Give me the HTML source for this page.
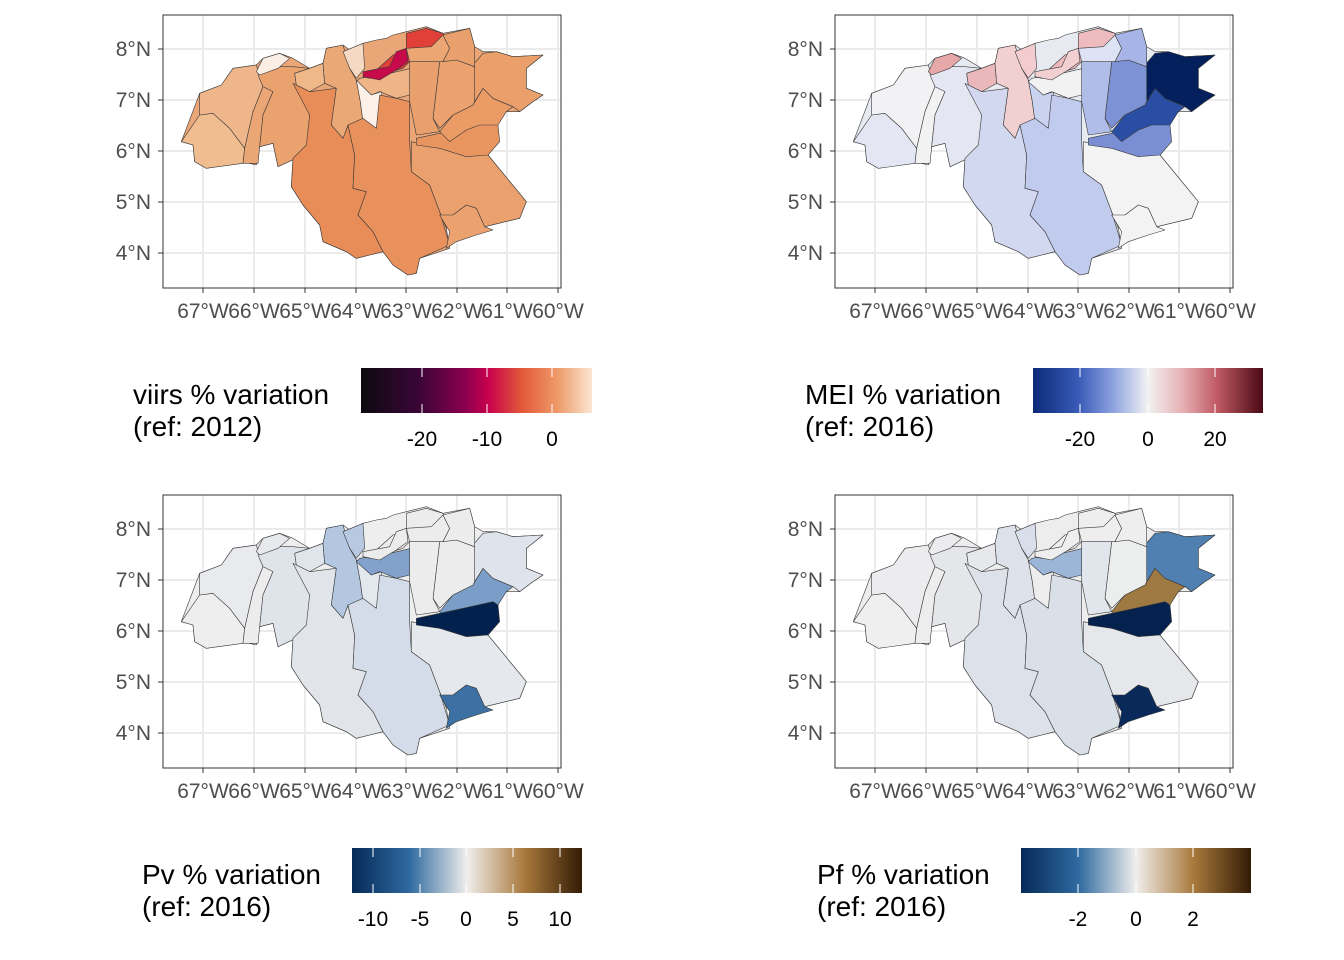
<!DOCTYPE html>
<html><head><meta charset="utf-8"><style>
html,body{margin:0;padding:0;background:#fff;}
svg{display:block;font-family:"Liberation Sans",sans-serif;}
.ax{font-size:21px;fill:#4d4d4d;}
.lt{font-size:28px;fill:#000;}
.lk{font-size:21px;fill:#000;}
.g{stroke:#ebebeb;stroke-width:2;}
.m use{stroke:#3a3a3a;stroke-width:1.8;stroke-linejoin:round;}
</style></head><body>
<svg width="1344" height="960" viewBox="0 0 1344 960" xmlns="http://www.w3.org/2000/svg">
<defs>
<path id="O" d="M55,380 L110,235 L175,210 L210,160 L280,150 L300,130 L350,115 L390,130 L440,160 L480,145 L490,100 L540,90 L560,105 L600,85 L640,75 L670,70 L690,60 L730,50 L790,35 L840,55 L920,40 L935,95 L960,110 L1000,110 L1050,125 L1140,120 L1090,160 L1090,220 L1140,240 L1110,260 L1070,290 L1030,290 L990,310 L1005,355 L975,420 L1090,560 L1070,610 L965,635 L940,580 L910,570 L870,600 L850,640 L860,700 L770,730 L760,775 L735,780 L690,750 L660,710 L620,720 L580,730 L550,710 L480,680 L470,630 L420,570 L385,515 L390,430 L345,455 L330,385 L290,395 L280,450 L240,440 L130,460 L95,440 L90,390 Z"/>
<path id="R1" d="M55,380 L110,300 L150,295 L200,340 L245,400 L240,445 L130,460 L95,440 L90,390 Z"/>
<path id="R2" d="M110,235 L175,210 L210,160 L280,150 L290,185 L300,215 L270,290 L245,400 L200,340 L150,295 L110,300 Z"/>
<path id="R3" d="M290,185 L300,215 L270,290 L245,400 L240,445 L285,445 L290,395 L300,300 L330,230 L310,200 Z"/>
<path id="R4" d="M285,180 L330,155 L390,155 L440,160 L395,175 L400,210 L440,230 L440,330 L440,390 L400,430 L345,455 L330,385 L290,395 L300,300 L330,230 L300,215 Z"/>
<path id="R5" d="M280,170 L300,130 L350,115 L380,130 L345,160 L290,180 Z"/>
<path id="R6" d="M395,175 L440,160 L480,145 L485,205 L440,230 L400,210 Z"/>
<path id="R7" d="M390,205 L440,230 L520,220 L505,330 L540,370 L555,330 L575,420 L570,520 L610,530 L585,600 L630,650 L660,710 L620,720 L580,730 L550,710 L480,680 L470,630 L420,570 L385,515 L390,430 L430,390 L440,300 Z"/>
<path id="R8" d="M480,145 L490,100 L540,90 L560,160 L580,195 L592,260 L600,320 L555,330 L540,370 L505,330 L520,220 L485,205 Z"/>
<path id="R9" d="M540,110 L600,85 L605,160 L580,190 L560,160 Z"/>
<path id="R10" d="M580,195 L625,240 L655,230 L665,320 L635,340 L600,320 L592,260 Z"/>
<path id="R11" d="M590,190 L680,175 L745,160 L760,210 L740,240 L700,250 L650,230 L625,240 L580,200 Z"/>
<path id="R12" d="M600,185 L640,165 L690,120 L730,105 L730,55 L790,40 L840,55 L860,100 L840,140 L830,165 L740,140 L720,160 L620,190 Z"/>
<path id="R13" d="M600,170 L680,155 L700,110 L730,100 L735,140 L700,165 L650,195 L600,185 Z"/>
<path id="R14" d="M555,330 L600,310 L640,340 L650,240 L700,250 L740,260 L740,380 L745,470 L800,510 L830,590 L860,690 L770,730 L760,775 L735,780 L690,750 L660,710 L630,650 L585,600 L610,530 L570,520 L575,420 Z"/>
<path id="R15" d="M745,380 L830,400 L880,400 L975,420 L1090,560 L1070,610 L965,635 L940,580 L910,570 L870,600 L850,640 L830,590 L800,510 L745,470 Z"/>
<path id="R16" d="M760,370 L830,355 L900,340 L990,320 L1005,330 L1010,380 L975,420 L910,425 L830,400 L760,390 Z"/>
<path id="R17" d="M830,350 L870,300 L930,270 L960,220 L990,250 L1050,275 L1030,290 L1005,330 L950,330 L910,345 L860,380 Z"/>
<path id="R18" d="M930,150 L960,115 L1000,110 L1050,125 L1140,120 L1090,160 L1090,220 L1140,240 L1110,260 L1070,290 L1050,275 L990,250 L960,220 L935,260 L930,200 Z"/>
<path id="R19" d="M830,140 L880,135 L935,155 L935,260 L930,270 L870,300 L830,340 L810,310 Z"/>
<path id="R20" d="M740,140 L830,140 L810,310 L830,350 L760,360 L740,260 Z"/>
<path id="R21" d="M730,100 L805,95 L840,60 L860,100 L840,140 L740,140 Z"/>
<path id="R23" d="M840,60 L920,40 L935,95 L935,155 L880,135 L840,140 L860,100 Z"/>
<path id="R22" d="M830,600 L870,600 L910,570 L940,580 L965,635 L990,645 L940,660 L880,680 L850,700 L860,650 Z"/>
<g id="grid">
<rect x="0" y="0" width="398" height="273" fill="#fff"/>
<line class="g" x1="40" y1="0" x2="40" y2="273"/><line class="g" x1="91" y1="0" x2="91" y2="273"/><line class="g" x1="142" y1="0" x2="142" y2="273"/><line class="g" x1="193" y1="0" x2="193" y2="273"/><line class="g" x1="243" y1="0" x2="243" y2="273"/><line class="g" x1="294" y1="0" x2="294" y2="273"/><line class="g" x1="344" y1="0" x2="344" y2="273"/><line class="g" x1="395" y1="0" x2="395" y2="273"/>
<line class="g" x1="0" y1="34" x2="398" y2="34"/><line class="g" x1="0" y1="85" x2="398" y2="85"/><line class="g" x1="0" y1="136" x2="398" y2="136"/><line class="g" x1="0" y1="187" x2="398" y2="187"/><line class="g" x1="0" y1="238" x2="398" y2="238"/>
</g>
<g id="axes">
<rect x="0" y="0" width="398" height="273" fill="none" stroke="#333" stroke-width="1"/>
<g stroke="#333" stroke-width="1">
<line x1="-5" y1="34" x2="0" y2="34"/><line x1="-5" y1="85" x2="0" y2="85"/><line x1="-5" y1="136" x2="0" y2="136"/><line x1="-5" y1="187" x2="0" y2="187"/><line x1="-5" y1="238" x2="0" y2="238"/>
<line x1="40" y1="273" x2="40" y2="278"/><line x1="91" y1="273" x2="91" y2="278"/><line x1="142" y1="273" x2="142" y2="278"/><line x1="193" y1="273" x2="193" y2="278"/><line x1="243" y1="273" x2="243" y2="278"/><line x1="294" y1="273" x2="294" y2="278"/><line x1="344" y1="273" x2="344" y2="278"/><line x1="395" y1="273" x2="395" y2="278"/>
</g>
<g class="ax" text-anchor="end">
<text x="-12" y="41">8°N</text><text x="-12" y="92">7°N</text><text x="-12" y="143">6°N</text><text x="-12" y="194">5°N</text><text x="-12" y="245">4°N</text>
</g>
<g class="ax" text-anchor="middle">
<text x="40" y="303">67°W</text><text x="91" y="303">66°W</text><text x="142" y="303">65°W</text><text x="193" y="303">64°W</text><text x="243" y="303">63°W</text><text x="294" y="303">62°W</text><text x="344" y="303">61°W</text><text x="395" y="303">60°W</text>
</g>
</g>
<linearGradient id="gv"><stop offset="0" stop-color="#0d0a0f"/><stop offset="0.25" stop-color="#3a0537"/><stop offset="0.45" stop-color="#8a0050"/><stop offset="0.55" stop-color="#c7004c"/><stop offset="0.7" stop-color="#e35a3a"/><stop offset="0.85" stop-color="#ee9a68"/><stop offset="1" stop-color="#fbe6d3"/></linearGradient>
<linearGradient id="gm"><stop offset="0" stop-color="#0c2a78"/><stop offset="0.2" stop-color="#3a5cb8"/><stop offset="0.35" stop-color="#8ea3e0"/><stop offset="0.5" stop-color="#f2f2f2"/><stop offset="0.65" stop-color="#e6b0b4"/><stop offset="0.8" stop-color="#c05a64"/><stop offset="1" stop-color="#4a0a14"/></linearGradient>
<linearGradient id="gp"><stop offset="0" stop-color="#062a58"/><stop offset="0.25" stop-color="#2f6aa0"/><stop offset="0.5" stop-color="#f0eeec"/><stop offset="0.75" stop-color="#a9793c"/><stop offset="1" stop-color="#331c05"/></linearGradient>
</defs>

<g transform="translate(163,15)"><use href="#grid"/>
<g class="m" transform="scale(0.33333)">
<use href="#O" fill="#eba677"/><use href="#R1" fill="#efbd8f"/><use href="#R2" fill="#eeb68a"/><use href="#R3" fill="#eaa674"/><use href="#R4" fill="#eaa26f"/><use href="#R5" fill="#fbeee4"/><use href="#R6" fill="#efb888"/><use href="#R7" fill="#e88c58"/><use href="#R8" fill="#eba877"/><use href="#R9" fill="#f6d9c2"/><use href="#R11" fill="#efb587"/><use href="#R10" fill="#fcf1e8"/><use href="#R12" fill="#e04038"/><use href="#R13" fill="#c60a4a"/><use href="#R14" fill="#e9915c"/><use href="#R15" fill="#eba16e"/><use href="#R16" fill="#e99560"/><use href="#R17" fill="#ea9b66"/><use href="#R18" fill="#eba06c"/><use href="#R19" fill="#eba26f"/><use href="#R20" fill="#eaa06c"/><use href="#R21" fill="#eca674"/><use href="#R23" fill="#eaa06c"/><use href="#R22" fill="#eba26e"/>
</g><use href="#axes"/></g>

<g transform="translate(835,15)"><use href="#grid"/>
<g class="m" transform="scale(0.33333)">
<use href="#O" fill="#e8eaf2"/><use href="#R1" fill="#e4e7f3"/><use href="#R2" fill="#f2f1f3"/><use href="#R3" fill="#f2f2f2"/><use href="#R4" fill="#e4e6f2"/><use href="#R5" fill="#e6a8a8"/><use href="#R6" fill="#eab8bb"/><use href="#R7" fill="#d3d8f1"/><use href="#R8" fill="#f2d0d2"/><use href="#R9" fill="#f2cccf"/><use href="#R10" fill="#c9d3f0"/><use href="#R11" fill="#f2f2f2"/><use href="#R12" fill="#eebcbf"/><use href="#R13" fill="#f2cfd1"/><use href="#R14" fill="#c1cbed"/><use href="#R15" fill="#f3f3f3"/><use href="#R16" fill="#7a8fd3"/><use href="#R17" fill="#2a4ea4"/><use href="#R18" fill="#04205c"/><use href="#R19" fill="#7d92d4"/><use href="#R20" fill="#b0bde9"/><use href="#R21" fill="#dde2f5"/><use href="#R23" fill="#a7b5e6"/><use href="#R22" fill="#f3f3f3"/>
</g><use href="#axes"/></g>

<g transform="translate(163,495)"><use href="#grid"/>
<g class="m" transform="scale(0.33333)">
<use href="#O" fill="#eeeeee"/><use href="#R1" fill="#eeeeee"/><use href="#R2" fill="#e9eaed"/><use href="#R3" fill="#ececed"/><use href="#R4" fill="#dfe3ea"/><use href="#R5" fill="#e8e9ed"/><use href="#R6" fill="#e0e5ec"/><use href="#R7" fill="#e1e5ea"/><use href="#R8" fill="#b4c7e1"/><use href="#R9" fill="#b7c8e0"/><use href="#R10" fill="#e3e7ee"/><use href="#R11" fill="#82a1cb"/><use href="#R12" fill="#ececec"/><use href="#R13" fill="#ececec"/><use href="#R14" fill="#d3dce8"/><use href="#R15" fill="#e5e8ec"/><use href="#R17" fill="#7b9ec8"/><use href="#R16" fill="#03214d"/><use href="#R18" fill="#dfe4ec"/><use href="#R19" fill="#ececec"/><use href="#R20" fill="#ececec"/><use href="#R21" fill="#ececec"/><use href="#R23" fill="#ececec"/><use href="#R22" fill="#3d70a3"/>
</g><use href="#axes"/></g>

<g transform="translate(835,495)"><use href="#grid"/>
<g class="m" transform="scale(0.33333)">
<use href="#O" fill="#ededee"/><use href="#R1" fill="#efeff0"/><use href="#R2" fill="#ececee"/><use href="#R3" fill="#ededee"/><use href="#R4" fill="#e5e6ea"/><use href="#R5" fill="#ececee"/><use href="#R6" fill="#e6e8ec"/><use href="#R7" fill="#dde2ea"/><use href="#R8" fill="#dde2ea"/><use href="#R9" fill="#d8dfea"/><use href="#R10" fill="#ededee"/><use href="#R11" fill="#9cb6d7"/><use href="#R12" fill="#eeeeee"/><use href="#R13" fill="#eeeeee"/><use href="#R14" fill="#dae0e8"/><use href="#R15" fill="#e6e7ea"/><use href="#R17" fill="#9f7942"/><use href="#R16" fill="#05224f"/><use href="#R18" fill="#4f80b1"/><use href="#R19" fill="#eceeee"/><use href="#R20" fill="#e1e5ec"/><use href="#R21" fill="#eeeeee"/><use href="#R23" fill="#eeeeee"/><use href="#R22" fill="#08295a"/>
</g><use href="#axes"/></g>

<g>
<text class="lt" x="133" y="404">viirs % variation</text><text class="lt" x="133" y="436">(ref: 2012)</text>
<rect x="361" y="368" width="231" height="45" fill="url(#gv)"/>
<g stroke="#fff" stroke-width="1"><line x1="422" y1="368" x2="422" y2="377"/><line x1="422" y1="404" x2="422" y2="413"/><line x1="487" y1="368" x2="487" y2="377"/><line x1="487" y1="404" x2="487" y2="413"/><line x1="552" y1="368" x2="552" y2="377"/><line x1="552" y1="404" x2="552" y2="413"/></g>
<g class="lk" text-anchor="middle"><text x="422" y="446">-20</text><text x="487" y="446">-10</text><text x="552" y="446">0</text></g>
</g>
<g>
<text class="lt" x="805" y="404">MEI % variation</text><text class="lt" x="805" y="436">(ref: 2016)</text>
<rect x="1033" y="368" width="230" height="45" fill="url(#gm)"/>
<g stroke="#fff" stroke-width="1"><line x1="1080" y1="368" x2="1080" y2="377"/><line x1="1080" y1="404" x2="1080" y2="413"/><line x1="1148" y1="368" x2="1148" y2="377"/><line x1="1148" y1="404" x2="1148" y2="413"/><line x1="1215" y1="368" x2="1215" y2="377"/><line x1="1215" y1="404" x2="1215" y2="413"/></g>
<g class="lk" text-anchor="middle"><text x="1080" y="446">-20</text><text x="1148" y="446">0</text><text x="1215" y="446">20</text></g>
</g>
<g>
<text class="lt" x="142" y="884">Pv % variation</text><text class="lt" x="142" y="916">(ref: 2016)</text>
<rect x="352" y="848" width="230" height="45" fill="url(#gp)"/>
<g stroke="#fff" stroke-width="1"><line x1="373" y1="848" x2="373" y2="857"/><line x1="373" y1="884" x2="373" y2="893"/><line x1="420" y1="848" x2="420" y2="857"/><line x1="420" y1="884" x2="420" y2="893"/><line x1="466" y1="848" x2="466" y2="857"/><line x1="466" y1="884" x2="466" y2="893"/><line x1="513" y1="848" x2="513" y2="857"/><line x1="513" y1="884" x2="513" y2="893"/><line x1="560" y1="848" x2="560" y2="857"/><line x1="560" y1="884" x2="560" y2="893"/></g>
<g class="lk" text-anchor="middle"><text x="373" y="926">-10</text><text x="420" y="926">-5</text><text x="466" y="926">0</text><text x="513" y="926">5</text><text x="560" y="926">10</text></g>
</g>
<g>
<text class="lt" x="817" y="884">Pf % variation</text><text class="lt" x="817" y="916">(ref: 2016)</text>
<rect x="1021" y="848" width="230" height="45" fill="url(#gp)"/>
<g stroke="#fff" stroke-width="1"><line x1="1078" y1="848" x2="1078" y2="857"/><line x1="1078" y1="884" x2="1078" y2="893"/><line x1="1136" y1="848" x2="1136" y2="857"/><line x1="1136" y1="884" x2="1136" y2="893"/><line x1="1193" y1="848" x2="1193" y2="857"/><line x1="1193" y1="884" x2="1193" y2="893"/></g>
<g class="lk" text-anchor="middle"><text x="1078" y="926">-2</text><text x="1136" y="926">0</text><text x="1193" y="926">2</text></g>
</g>
</svg>
</body></html>
